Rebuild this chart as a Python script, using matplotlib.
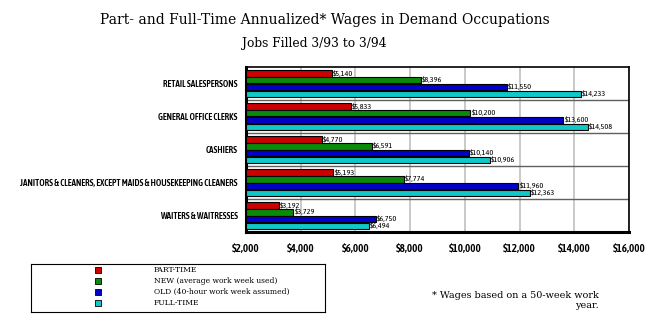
import matplotlib
matplotlib.use('Agg')
import matplotlib.pyplot as plt
import numpy as np

occupations = ['RETAIL SALESPERSONS', 'GENERAL OFFICE CLERKS', 'CASHIERS',
               'JANITORS & CLEANERS, EXCEPT MAIDS & HOUSEKEEPING CLEANERS',
               'WAITERS & WAITRESSES']
part_time = [5140, 5833, 4770, 5193, 3192]
new_avg = [8396, 10200, 6591, 7774, 3729]
old_40 = [11550, 13600, 10140, 11960, 6750]
full_time = [14233, 14508, 10906, 12363, 6494]

series_names = ['PART-TIME', 'NEW (average work week used)',
                'OLD (40-hour work week assumed)', 'FULL-TIME']
colors = ['#cc0000', '#0a8a0a', '#0000c8', '#10c8c8']
xticks = [2000, 4000, 6000, 8000, 10000, 12000, 14000, 16000]

NARROW = ['Asap Condensed', 'Archivo Narrow', 'DejaVu Sans']


def main():
    fig = plt.figure(figsize=(6.5, 3.25), dpi=100)
    ax = fig.add_axes([246 / 650, 1 - 232 / 325, 383 / 650, 165 / 325])

    series = [part_time, new_avg, old_40, full_time]
    h = 0.19
    base = np.arange(len(occupations))
    for i, vals in enumerate(series):
        y = base - 0.30 + i * 0.205
        bars = ax.barh(y, np.array(vals) - 2000, left=2000, height=h,
                       color=colors[i], edgecolor='black', linewidth=0.8, zorder=3)
        for b, v in zip(bars, vals):
            ax.text(b.get_x() + b.get_width() + 40, b.get_y() + b.get_height() / 2,
                    '$' + format(v, ','), fontsize=5.9, va='center', ha='left',
                    family=NARROW, zorder=4)

    ax.set_xlim(2000, 16000)
    ax.set_ylim(len(occupations) - 0.5, -0.5)
    ax.set_xticks(xticks)
    ax.set_xticklabels(['$' + format(t, ',') for t in xticks], fontsize=8,
                       family=NARROW, weight='semibold')
    ax.set_yticks(base)
    ax.set_yticklabels(occupations, fontsize=6.6, weight='semibold', family=NARROW)
    ax.tick_params(length=0)
    ax.tick_params(axis='x', pad=8)
    ax.tick_params(axis='y', pad=6)
    ax.grid(axis='x', color='#c0c0c0', linewidth=1.2, zorder=0)
    for k in range(1, len(occupations)):
        ax.axhline(k - 0.5, color='#606060', linewidth=1, zorder=2)
    for side in ['left', 'bottom']:
        ax.spines[side].set_linewidth(2.2)
    for side in ['top', 'right']:
        ax.spines[side].set_linewidth(1.2)

    fig.text(325 / 650, 1 - 20 / 325,
             'Part- and Full-Time Annualized* Wages in Demand Occupations',
             ha='center', va='center', fontsize=10, family='DejaVu Serif')
    fig.text(314 / 650, 1 - 44 / 325, 'Jobs Filled 3/93 to 3/94',
             ha='center', va='center', fontsize=8.8, family='DejaVu Serif')

    # legend box
    lg = fig.add_axes([31 / 650, 1 - 312 / 325, 294 / 650, 48 / 325])
    lg.set_xlim(0, 294)
    lg.set_ylim(48, 0)
    lg.set_xticks([])
    lg.set_yticks([])
    for s in lg.spines.values():
        s.set_linewidth(0.8)
    for i, name in enumerate(series_names):
        yy = 6 + i * 11
        lg.scatter([67], [yy], marker='s', s=14, color=colors[i],
                   edgecolor='black', linewidth=0.6)
        lg.text(123, yy, name, fontsize=5.5, va='center', ha='left', family='DejaVu Serif')

    fig.text(599 / 650, 1 - 295 / 325, '* Wages based on a 50-week work',
             ha='right', va='center', fontsize=6.9, family='DejaVu Serif')
    fig.text(599 / 650, 1 - 306 / 325, 'year.',
             ha='right', va='center', fontsize=6.9, family='DejaVu Serif')

    plt.savefig('out.png', dpi=100)


if __name__ == '__main__':
    main()
